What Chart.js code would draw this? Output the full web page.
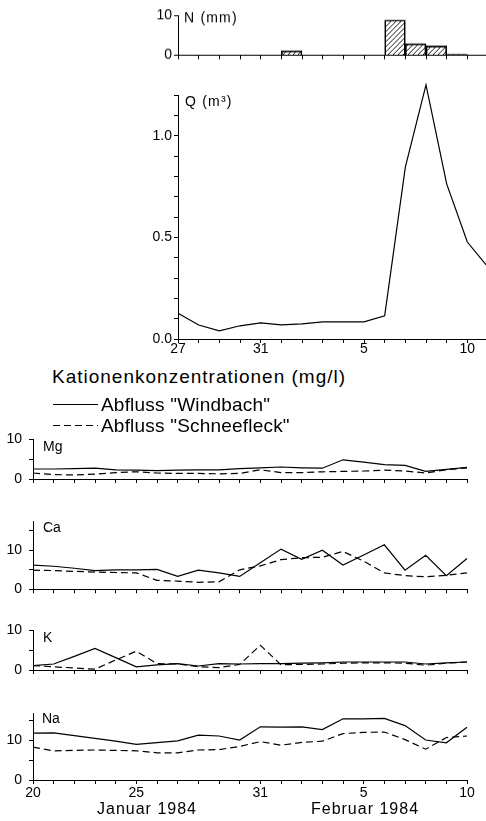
<!DOCTYPE html>
<html>
<head>
<meta charset="utf-8">
<title>Abfluss und Kationenkonzentrationen</title>
<script src="https://cdn.jsdelivr.net/npm/chart.js@4.4.1/dist/chart.umd.min.js"></script>
<style>
  html, body { margin: 0; padding: 0; background: #fff; width: 486px; height: 821px; overflow: hidden; }
  .panel { position: absolute; }
  .txt { position: absolute; font-family: "Liberation Sans", Arial, sans-serif; color: #000; white-space: nowrap; line-height: 1; }
  .key { position: absolute; left: 53px; width: 45px; height: 1.3px; }
</style>
</head>
<body>
<div class="panel" id="pN"><canvas></canvas></div>
<div class="panel" id="pQ"><canvas></canvas></div>
<div class="panel" id="pMg"><canvas></canvas></div>
<div class="panel" id="pCa"><canvas></canvas></div>
<div class="panel" id="pK"><canvas></canvas></div>
<div class="panel" id="pNa"><canvas></canvas></div>

<div class="txt" style="left:52px;top:367px;font-size:19px;letter-spacing:1px">Kationenkonzentrationen (mg/l)</div>
<div class="key" style="top:404px;background:#000"></div>
<div class="txt" style="left:101px;top:395px;font-size:19px;letter-spacing:0.2px">Abfluss "Windbach"</div>
<div class="key" style="top:425px;background:repeating-linear-gradient(to right,#000 0 7px,transparent 7px 11px)"></div>
<div class="txt" style="left:101px;top:416px;font-size:19px;letter-spacing:0.2px">Abfluss "Schneefleck"</div>
<div class="txt" style="left:47px;width:200px;text-align:center;top:801px;font-size:16px;letter-spacing:1px">Januar 1984</div>
<div class="txt" style="left:265px;width:200px;text-align:center;top:801px;font-size:16px;letter-spacing:1px">Februar 1984</div>

<script>
// Upper panels: day 0 = 27 Jan 1984
const topDays = [0, 1, 2, 3, 4, 5, 6, 7, 8, 9, 10, 11, 12, 13, 14, 15];
// daily precipitation N (mm), bar i covers day i .. i+1
const nRain = [0, 0, 0, 0, 0, 1.1, 0, 0, 0, 0, 8.8, 2.9, 2.3, 0.25, 0];
// discharge Q (m3)
const qFlow = [0.127, 0.069, 0.040, 0.065, 0.079, 0.069, 0.074, 0.084, 0.084, 0.084,
               0.114, 0.845, 1.25, 0.763, 0.477, 0.354];
const topTickDays = [0, 4, 9, 14];
const topTickLabels = ['27', '31', '5', '10'];

// Cation panels: day 0 = 20 Jan 1984
const days = [0, 1, 2, 3, 4, 5, 6, 7, 8, 9, 10, 11, 12, 13, 14, 15, 16, 17, 18, 19, 20, 21];
const mgWindbach = [2.5, 2.5, 2.6, 2.7, 2.3, 2.2, 2.1, 2.2, 2.3, 2.3, 2.6, 2.8, 3.0, 2.8, 2.7, 4.8, 4.2, 3.6, 3.4, 1.9, 2.4, 2.9];
const mgSchneefleck = [1.5, 1.1, 1.0, 1.2, 1.6, 1.8, 1.5, 1.4, 1.4, 1.3, 1.4, 2.3, 1.6, 1.6, 1.8, 1.9, 2.0, 2.2, 2.0, 1.5, 2.3, 2.8];
const caWindbach = [6.2, 5.9, 5.4, 4.8, 5.0, 5.0, 5.1, 3.3, 4.9, 4.2, 3.3, 6.8, 10.3, 7.7, 10.0, 6.2, 8.8, 11.4, 4.9, 8.7, 3.5, 7.9];
const caSchneefleck = [4.9, 4.8, 4.6, 4.4, 4.3, 4.2, 2.3, 2.1, 1.8, 1.9, 5.0, 6.0, 7.6, 8.1, 8.2, 9.7, 7.2, 4.2, 3.5, 3.2, 3.6, 4.2];
const kWindbach = [1.1, 1.5, 3.4, 5.4, 3.1, 0.8, 1.3, 1.6, 1.0, 1.6, 1.5, 1.6, 1.6, 1.7, 1.8, 2.0, 2.0, 2.0, 2.0, 1.5, 1.8, 2.0];
const kSchneefleck = [1.1, 0.8, 0.5, 0.2, 2.5, 4.7, 1.6, 1.5, 0.8, 0.6, 1.4, 6.2, 1.3, 1.4, 1.5, 1.7, 1.8, 1.8, 1.7, 1.2, 1.7, 2.0];
const naWindbach = [11.7, 11.8, 11.1, 10.4, 9.7, 8.9, 9.35, 9.8, 11.2, 11.0, 10.0, 13.3, 13.2, 13.3, 12.6, 15.3, 15.3, 15.4, 13.6, 10.0, 9.3, 13.2];
const naSchneefleck = [8.2, 7.3, 7.4, 7.5, 7.4, 7.3, 6.8, 6.8, 7.5, 7.6, 8.4, 9.6, 8.7, 9.4, 9.7, 11.6, 11.9, 12.0, 10.1, 7.7, 10.6, 11.0];
const tickDays = [0, 5, 11, 16, 21];
const tickLabels = ['20', '25', '31', '5', '10'];

const FONT = '"Liberation Sans", Arial, sans-serif';
const YW = 40;     // fixed width of the y axis box
const XH = 22;     // fixed height of the x axis box
const PAD_T = 16;
const PAD_R = 16;

Chart.defaults.font.family = FONT;
Chart.defaults.color = '#000';

// draws the small panel name (Mg, Ca, ...) inside the plot
Chart.register({
  id: 'panelLabel',
  afterDraw(chart, args, opts) {
    if (!opts.text) return;
    const { ctx, chartArea } = chart;
    ctx.save();
    ctx.font = '14px ' + FONT;
    if ('letterSpacing' in ctx) ctx.letterSpacing = (opts.spacing || 0) + 'px';
    ctx.fillStyle = '#000';
    ctx.textBaseline = 'alphabetic';
    ctx.fillText(opts.text, chartArea.left + opts.dx, chartArea.top + opts.dy);
    ctx.restore();
  }
});

// diagonal hatching for the precipitation bars
function hatch() {
  const c = document.createElement('canvas');
  c.width = 5; c.height = 5;
  const g = c.getContext('2d');
  g.strokeStyle = '#000';
  g.lineWidth = 0.9;
  g.beginPath();
  g.moveTo(0, 5); g.lineTo(5, 0);
  g.moveTo(-1, 1); g.lineTo(1, -1);
  g.moveTo(4, 6); g.lineTo(6, 4);
  g.stroke();
  return g.createPattern(c, 'repeat');
}

// position the container so the chart area lands on the given box
function place(id, box) {
  const el = document.getElementById(id);
  el.style.left = (box.left - YW) + 'px';
  el.style.top = (box.top - PAD_T) + 'px';
  el.style.width = (box.right - box.left + YW + PAD_R) + 'px';
  el.style.height = (box.bottom - box.top + PAD_T + XH) + 'px';
  return el.querySelector('canvas');
}

function xAxis(max, labelDays, labels, pad) {
  return {
    type: 'linear', min: 0, max: max, offset: false,
    afterFit: s => { s.height = XH; },
    border: { color: '#000', width: 1 },
    grid: { drawOnChartArea: false, color: '#000', tickLength: 4, offset: false },
    ticks: {
      stepSize: 1, autoSkip: false, maxRotation: 0, minRotation: 0, padding: pad,
      font: { size: 14 },
      callback: v => {
        const i = labelDays.indexOf(Math.round(v));
        return i >= 0 ? labels[i] : '';
      }
    }
  };
}

function yAxis(max, step, shown, digits, pad) {
  return {
    type: 'linear', min: 0, max: max,
    afterFit: s => { s.width = YW; },
    border: { color: '#000', width: 1 },
    grid: { drawOnChartArea: false, color: '#000', tickLength: 4 },
    ticks: {
      stepSize: step, includeBounds: false, padding: pad,
      font: { size: 14 },
      callback: v => shown.some(s => Math.abs(s - v) < 1e-6) ? v.toFixed(digits) : ''
    }
  };
}

function line(xs, values, dashed) {
  return {
    type: 'line',
    data: xs.map((d, i) => ({ x: d, y: values[i] })),
    borderColor: '#000',
    borderWidth: 1.2,
    borderDash: dashed ? [7, 4] : [],
    pointRadius: 0,
    tension: 0,
    fill: false,
    clip: false
  };
}

function panel(id, box, type, datasets, x, y, label) {
  return new Chart(place(id, box), {
    type: type,
    data: { datasets: datasets },
    options: {
      responsive: true,
      maintainAspectRatio: false,
      animation: false,
      events: [],
      layout: { padding: { top: PAD_T, right: PAD_R, left: 0, bottom: 0 } },
      plugins: { legend: { display: false }, tooltip: { enabled: false }, panelLabel: label },
      scales: { x: x, y: y }
    }
  });
}

const DAY = 20.667;
const TOP_L = 178, BOT_L = 33;
const topRight = TOP_L + 15 * DAY;
const botRight = BOT_L + 21 * DAY;

// N (mm)
panel('pN', { left: TOP_L, top: 15, right: topRight, bottom: 54.5 }, 'bar', [{
  data: nRain.map((v, i) => ({ x: topDays[i] + 0.5, y: v })),
  backgroundColor: hatch(),
  borderColor: '#000',
  borderWidth: 1,
  barPercentage: 1,
  categoryPercentage: 1
}], xAxis(15, [], [], 0), yAxis(10, 5, [0, 10], 0, 2),
  { text: 'N (mm)', dx: 6, dy: 7, spacing: 1.2 });

// Q (m3)
panel('pQ', { left: TOP_L, top: 95, right: topRight, bottom: 339 }, 'line',
  [line(topDays, qFlow, false)],
  xAxis(15, topTickDays, topTickLabels, -2), yAxis(1.2, 0.1, [0, 0.5, 1.0], 1, 2),
  { text: 'Q (m\u00b3)', dx: 7, dy: 11, spacing: 1.2 });

// cation panels
panel('pMg', { left: BOT_L, top: 439, right: botRight, bottom: 479 }, 'line',
  [line(days, mgWindbach, false), line(days, mgSchneefleck, true)],
  xAxis(21, [], [], 0), yAxis(10, 5, [0, 10], 0, 7), { text: 'Mg', dx: 10, dy: 12 });

panel('pCa', { left: BOT_L, top: 520.75, right: botRight, bottom: 589 }, 'line',
  [line(days, caWindbach, false), line(days, caSchneefleck, true)],
  xAxis(21, [], [], 0), yAxis(17.5, 5, [0, 10], 0, 7), { text: 'Ca', dx: 10, dy: 11 });

panel('pK', { left: BOT_L, top: 630, right: botRight, bottom: 670 }, 'line',
  [line(days, kWindbach, false), line(days, kSchneefleck, true)],
  xAxis(21, [], [], 0), yAxis(10, 5, [0, 10], 0, 7), { text: 'K', dx: 10, dy: 12 });

panel('pNa', { left: BOT_L, top: 713, right: botRight, bottom: 780 }, 'line',
  [line(days, naWindbach, false), line(days, naSchneefleck, true)],
  xAxis(21, tickDays, tickLabels, 1), yAxis(16.75, 5, [0, 10], 0, 7), { text: 'Na', dx: 9, dy: 10 });
</script>
</body>
</html>
